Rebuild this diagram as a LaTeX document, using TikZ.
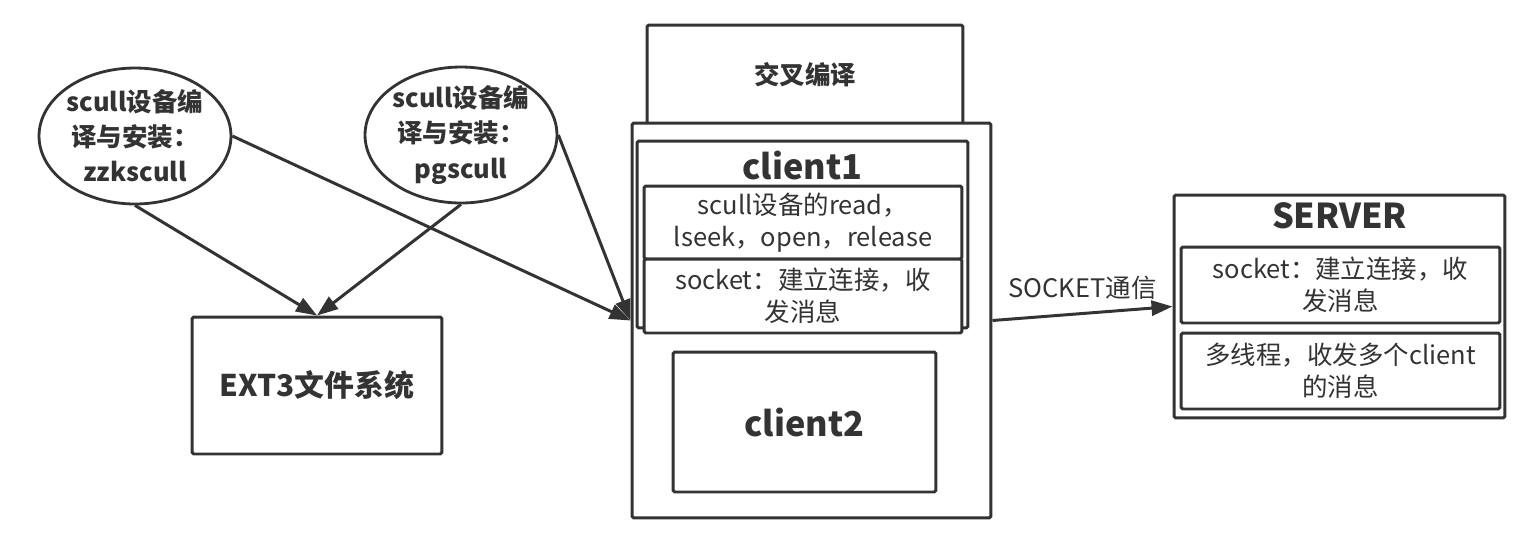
\documentclass[tikz,border=0pt]{standalone}
\usepackage{fontspec}
\setmainfont{Noto Sans CJK SC}
\usepackage{tikz}
\usetikzlibrary{arrows.meta,positioning,shapes.geometric}
\definecolor{Ink}{HTML}{333333}

\begin{document}
\begin{tikzpicture}[
    x=0.02cm, y=-0.02cm,
    every node/.style={text=Ink},
    oval/.style={ellipse, draw=Ink, line width=1.6pt, fill=white, align=center, inner sep=-0.3cm, minimum width=3.84cm, minimum height=2.72cm, font=\fontsize{14.5}{20}\selectfont\bfseries},
    box/.style={rectangle, rounded corners=1pt, draw=Ink, line width=1.7pt, fill=white, align=center, inner sep=0pt},
    small/.style={font=\fontsize{14.5}{18}\selectfont},
    title/.style={font=\fontsize{19.5}{22}\selectfont\bfseries, anchor=center, text=Ink},
    arrow/.style={-{Triangle[length=0.42cm, width=0.3cm]}, line width=1.7pt, draw=Ink}
]
\useasboundingbox (0,0) rectangle (1532,542);

\node[oval] (zzk) at (135,136) {scull设备编\\译与安装：\\zzkscull};
\node[oval] (pg) at (461,135) {scull设备编\\译与安装：\\pgscull};
\node[box, minimum width=5cm, minimum height=2.74cm, font=\fontsize{17}{20}\selectfont\bfseries] (ext3) at (317,385.5) {EXT3文件系统};

\node[box, minimum width=6.32cm, minimum height=2cm, font=\fontsize{14.5}{18}\selectfont\bfseries] (cross) at (805,75) {交叉编译};
\node[box, minimum width=7.18cm, minimum height=7.9cm] (clientbox) at (811.5,320.5) {};
\node[box, minimum width=6.62cm, minimum height=3.74cm, label={[title, yshift=-0.52cm]north:client1}] (client1) at (802.5,234.5) {};
\node[box, small, minimum width=6.36cm, minimum height=1.46cm] (readbox) at (803,222.5) {scull设备的read，\\lseek，open，release};
\node[box, small, minimum width=6.36cm, minimum height=1.48cm] (sockbox) at (803,296) {socket：建立连接，收\\发消息};
\node[box, title, minimum width=5.26cm, minimum height=2.8cm] (client2) at (804.5,422) {client2};

\node[box, minimum width=6.62cm, minimum height=4.46cm, label={[title, yshift=-0.44cm]north:SERVER}] (server) at (1339.5,306.5) {};
\node[box, small, minimum width=6.38cm, minimum height=1.52cm] (srvsock) at (1340.5,285) {socket：建立连接，收\\发消息};
\node[box, small, minimum width=6.38cm, minimum height=1.52cm] (srvthread) at (1340.5,371) {多线程，收发多个client\\的消息};

\draw[arrow] (zzk.south) -- (ext3.north);
\draw[arrow] (pg.south) -- (ext3.north);
\draw[arrow] (zzk.east) -- (clientbox.west);
\draw[arrow] (pg.east) -- (clientbox.west);
\draw[arrow] (clientbox.east) -- node[above=0.14cm, small] (socketlbl) {SOCKET通信} (server.west);
\end{tikzpicture}
\end{document}
